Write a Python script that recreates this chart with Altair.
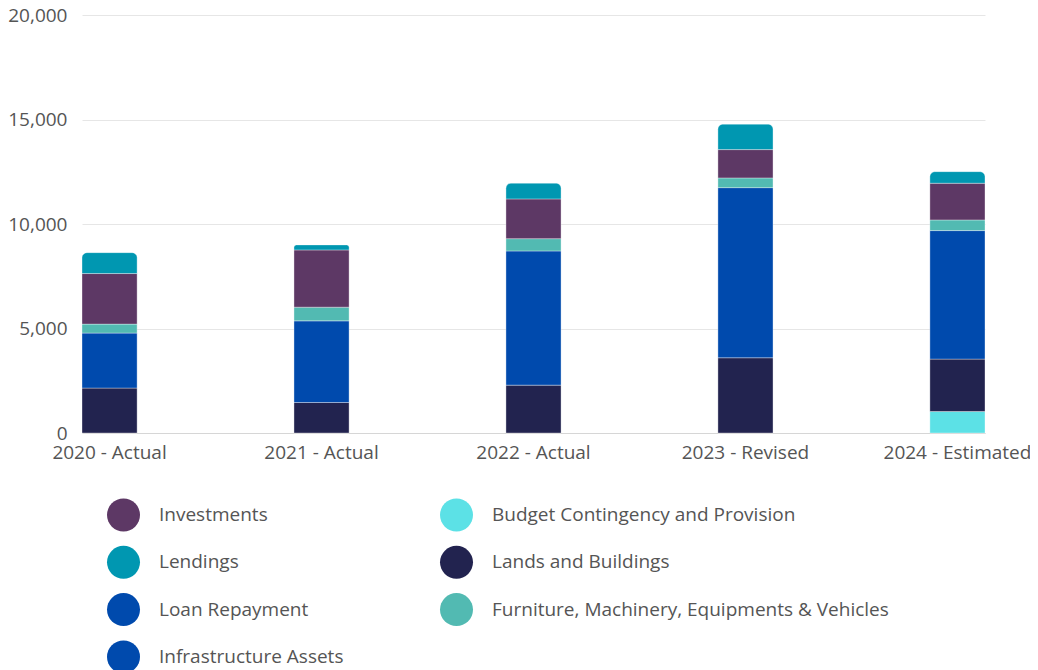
import altair as alt
import pandas as pd

years = ["2020 - Actual", "2021 - Actual", "2022 - Actual", "2023 - Revised", "2024 - Estimated"]

budget_contingency = [0, 0, 0, 0, 1030]
lands_buildings = [2150, 1460, 2290, 3600, 2505]
infrastructure = [2630, 3905, 6420, 8140, 6150]
loan_repayment = [0, 0, 0, 0, 0]
furniture = [430, 655, 590, 465, 510]
investments = [2420, 2740, 1900, 1355, 1755]
lendings = [1000, 240, 750, 1215, 555]

# stacking order (bottom -> top)
series = [
    ("Budget Contingency and Provision", budget_contingency),
    ("Lands and Buildings", lands_buildings),
    ("Infrastructure Assets", infrastructure),
    ("Loan Repayment", loan_repayment),
    ("Furniture, Machinery, Equipments & Vehicles", furniture),
    ("Investments", investments),
    ("Lendings", lendings),
]

# legend order (column-major, 2 columns)
legend_order = [
    "Investments",
    "Lendings",
    "Loan Repayment",
    "Infrastructure Assets",
    "Budget Contingency and Provision",
    "Lands and Buildings",
    "Furniture, Machinery, Equipments & Vehicles",
]
legend_colors = ["#5D3865", "#0097B1", "#004AAD", "#004AAD", "#5CE1E6", "#22234F", "#52BAB2"]

rows = []
for order, (name, vals) in enumerate(series):
    for yr, v in zip(years, vals):
        rows.append({"year": yr, "series": name, "value": v, "order": order})
df = pd.DataFrame(rows)

FONT = "Open Sans"

base = alt.Chart(df).transform_stack(
    stack="value",
    groupby=["year"],
    as_=["y0", "y1"],
    sort=[alt.SortField("order", order="ascending")],
).transform_filter("datum.value > 0")

enc = dict(
    x=alt.X(
        "year:N",
        sort=years,
        scale=alt.Scale(paddingInner=0.74, paddingOuter=0),
        axis=alt.Axis(
            title=None, labelAngle=0, labelFontSize=19, labelFont=FONT,
            labelColor="#555555", labelPadding=10, ticks=False, domain=True,
            domainColor="#d6d6d6", grid=False,
        ),
    ),
    y=alt.Y(
        "y0:Q",
        scale=alt.Scale(domain=[0, 20000], nice=False),
        axis=alt.Axis(
            title=None, values=[0, 5000, 10000, 15000, 20000], format=",.0f",
            labelFontSize=19, labelFont=FONT, labelColor="#555555",
            labelPadding=15, ticks=False, domain=False, gridColor="#e6e6e6",
        ),
    ),
    y2="y1:Q",
    color=alt.Color(
        "series:N",
        scale=alt.Scale(domain=legend_order, range=legend_colors),
        legend=alt.Legend(
            title=None, orient="none", legendX=25, legendY=483.5, columns=2,
            symbolType="circle", symbolSize=1089, symbolStrokeWidth=0,
            symbolOpacity=1, labelFontSize=19, labelFont=FONT,
            labelColor="#555555", labelOffset=19, rowPadding=14.3,
            columnPadding=96, labelLimit=500,
        ),
    ),
)

main = base.transform_filter("datum.series != 'Lendings'").mark_bar(
    stroke="#ffffff", strokeWidth=1, strokeOpacity=0.35
).encode(**enc)

top = base.transform_filter("datum.series == 'Lendings'").mark_bar(
    stroke="#ffffff", strokeWidth=1, strokeOpacity=0.35,
    cornerRadiusTopLeft=5, cornerRadiusTopRight=5,
).encode(**enc)

chart = alt.layer(main, top).properties(
    width=903,
    height=418,
    autosize=alt.AutoSizeParams(type="none"),
    padding={"left": 74, "top": 7, "right": 45, "bottom": 237},
).configure_view(stroke=None)

chart.save("out.html", embed_options={"renderer": "svg", "actions": False})
